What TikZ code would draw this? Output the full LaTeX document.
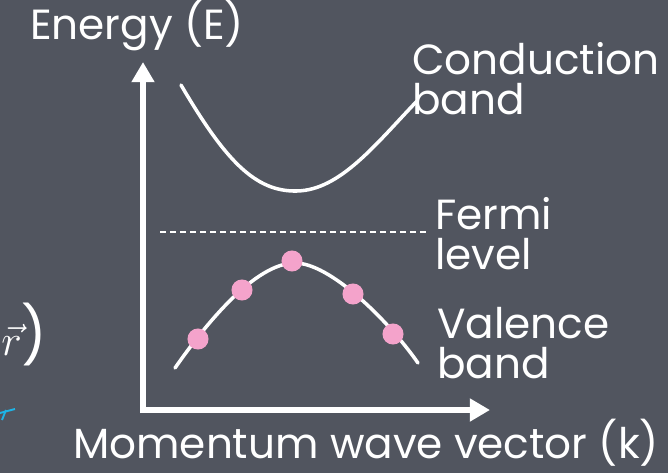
\documentclass[tikz,border=0pt]{standalone}
\usepackage{fontspec}
\setmainfont{Poppins}
\usepackage{xcolor}
\usetikzlibrary{arrows.meta, positioning}
\definecolor{board}{HTML}{51555F}
\definecolor{chalkpink}{HTML}{F4A3CB}
\definecolor{chalkcyan}{HTML}{1EB4E6}
\tikzset{
  chalk/.style={white, line cap=round, line width=2pt},
  axis/.style={white, line width=3.6pt, -{Triangle[length=11.5pt, width=12.5pt]}},
  label/.style={text=white, font=\fontsize{24}{23}\selectfont, inner sep=0pt, anchor=north west, align=left},
  dot/.style={circle, fill=chalkpink, inner sep=0pt, minimum size=12pt},
}
\begin{document}
\begin{tikzpicture}[x=0.02cm, y=-0.02cm]
  \fill[board] (0,0) rectangle (668,473);
  \useasboundingbox (0,0) rectangle (668,473);
  % axes
  \coordinate (origin) at (143,410);
  \coordinate (etop) at (143,62);
  \coordinate (kend) at (490,410);
  \draw[axis] (143,413) -- (etop);
  \draw[axis] (140,410) -- (kend);
  % bands
  \draw[chalk] (181,85) .. controls (225,160) and (255,192) .. (297,191)
    .. controls (340,190) and (375,145) .. (417,101);
  \draw[white, line width=0.7pt, dash pattern=on 3.4pt off 2.3pt] (160,232) -- (430,232);
  \draw[chalk] (175,368) .. controls (205,325) and (255,263) .. (295,263)
    .. controls (330,263) and (388,320) .. (418,363);
  \foreach \x/\y [count=\i] in {198/339, 242/290, 292/261, 353/294, 393/334}
    \node[dot] (e\i) at (\x,\y) {};
  % labels
  \node[label, anchor=center] (elabel) at (137,26) {Energy (E)};
  \node[label] (cband) at (412,42) {Conduction\\band};
  \node[label] (fermi) at (435,197) {Fermi\\level};
  \node[label] (vband) at (437,307) {Valence\\band};
  \node[label, anchor=center] (klabel) at (366,443) {Momentum wave vector (k)};
  % remains at left edge
  \node[label, anchor=west, font=\fontsize{32}{32}\selectfont] (rfrag) at (1,334) {$\vec{r}$)};
  \draw[chalkcyan, line width=1.1pt] (0,413) -- (15,409);
  \draw[chalkcyan, line width=1.1pt] (6,410) -- (2,420);
\end{tikzpicture}
\end{document}
